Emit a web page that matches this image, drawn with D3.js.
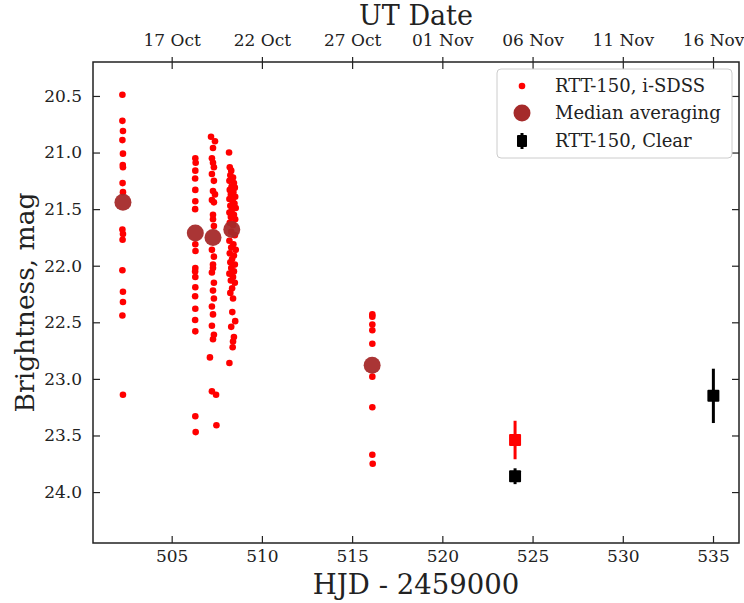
<!DOCTYPE html>
<html>
<head>
<meta charset="utf-8">
<script src="https://cdn.jsdelivr.net/npm/d3@7"></script>
<style>
  html, body { margin: 0; padding: 0; background: #fff; }
  svg { display: block; }
  text { font-family: "DejaVu Serif", serif; fill: #222; }
</style>
</head>
<body>
<svg id="chart" width="744" height="603"></svg>
<script>
// RTT-150 i-SDSS photometry, one array per night: [HJD - 2459000, mag]
const night1 = [
  [502.27, 20.49], [502.27, 20.72], [502.30, 20.81], [502.27, 20.89], [502.30, 21.01],
  [502.29, 21.11], [502.30, 21.13], [502.28, 21.27], [502.30, 21.35], [502.27, 21.68],
  [502.30, 21.72], [502.28, 21.77], [502.27, 22.04], [502.30, 22.23], [502.30, 22.32],
  [502.27, 22.44], [502.30, 23.14]
];
const night2 = [
  [506.31, 21.05], [506.33, 21.09], [506.31, 21.16], [506.30, 21.23], [506.31, 21.33],
  [506.31, 21.43], [506.30, 21.50], [506.31, 21.81], [506.32, 21.87], [506.31, 22.02],
  [506.30, 22.05], [506.31, 22.10], [506.31, 22.19], [506.30, 22.27], [506.31, 22.38],
  [506.30, 22.48], [506.31, 22.58], [506.31, 23.33], [506.33, 23.47]
];
const night3 = [
  [507.18, 20.86], [507.40, 20.90], [507.29, 20.96], [507.23, 21.05], [507.29, 21.09],
  [507.34, 21.13], [507.23, 21.19], [507.34, 21.25], [507.29, 21.34], [507.40, 21.37],
  [507.23, 21.42], [507.34, 21.44], [507.29, 21.55], [507.29, 21.59], [507.34, 21.65],
  [507.23, 21.86], [507.34, 21.92], [507.29, 21.99], [507.29, 22.02], [507.23, 22.06],
  [507.34, 22.15], [507.29, 22.22], [507.34, 22.29], [507.23, 22.36], [507.29, 22.43],
  [507.23, 22.53], [507.34, 22.61], [507.29, 22.65], [507.12, 22.81], [507.23, 23.11],
  [507.46, 23.14], [507.48, 23.41]
];
const night4 = [
  [508.18, 21.00], [508.22, 21.13], [508.30, 21.16], [508.25, 21.20], [508.40, 21.22],
  [508.20, 21.25], [508.45, 21.27], [508.32, 21.30], [508.50, 21.31], [508.22, 21.33],
  [508.42, 21.35], [508.28, 21.37], [508.52, 21.39], [508.20, 21.41], [508.38, 21.43],
  [508.48, 21.45], [508.25, 21.47], [508.55, 21.49], [508.33, 21.51], [508.20, 21.53],
  [508.45, 21.55], [508.28, 21.57], [508.52, 21.59], [508.22, 21.62], [508.40, 21.64],
  [508.30, 21.70], [508.50, 21.73], [508.20, 21.78], [508.42, 21.81], [508.30, 21.84],
  [508.55, 21.86], [508.22, 21.89], [508.45, 21.91], [508.35, 21.94], [508.25, 21.97],
  [508.50, 21.99], [508.30, 22.02], [508.45, 22.05], [508.20, 22.07], [508.40, 22.10],
  [508.28, 22.13], [508.50, 22.15], [508.35, 22.20], [508.25, 22.24], [508.40, 22.29],
  [508.36, 22.41], [508.52, 22.49], [508.30, 22.54], [508.45, 22.63], [508.40, 22.67],
  [508.38, 22.72], [508.20, 22.86]
];
const night5 = [
  [516.12, 22.43], [516.12, 22.45], [516.12, 22.52], [516.12, 22.57], [516.12, 22.69],
  [516.12, 22.98], [516.12, 23.25], [516.12, 23.67], [516.14, 23.75]
];

// Nightly medians
const medianHjd = [502.30, 506.31, 507.29, 508.33, 516.11];
const medianMag = [21.44, 21.71, 21.75, 21.68, 22.88];

// Averaged points with uncertainties
const sdssAvgHjd = [524.03];
const sdssAvgMag = [23.54];
const sdssAvgErr = [0.17];
const clearHjd = [524.03, 535.02];
const clearMag = [23.86, 23.15];
const clearErr = [0.07, 0.24];

// Axis ticks
const xTicks = [505, 510, 515, 520, 525, 530, 535];
const yTicks = [20.5, 21.0, 21.5, 22.0, 22.5, 23.0, 23.5, 24.0];
const legendLabels = ["RTT-150, i-SDSS", "Median averaging", "RTT-150, Clear"];

const JD0 = 2459000;
const plot = { left: 93, right: 739, top: 62, bottom: 543 };

const svg = d3.select("#chart");

const x = d3.scaleLinear().domain([500.64, 536.44]).range([plot.left, plot.right]);
const y = d3.scaleLinear().domain([20.2, 24.45]).range([plot.top, plot.bottom]);

// HJD offset -> calendar date (UTC)
const toDate = h => new Date((h + JD0 - 2440587.5) * 86400000);
const dateFmt = d3.utcFormat("%d %b");

const tickLen = 7;

// Bottom axis (inward ticks)
const gx = svg.append("g").attr("transform", `translate(0,${plot.bottom})`)
  .call(d3.axisBottom(x).tickValues(xTicks).tickFormat(d3.format("d"))
    .tickSizeInner(-tickLen).tickSizeOuter(0).tickPadding(7));
// Top axis: dates
const gt = svg.append("g").attr("transform", `translate(0,${plot.top})`)
  .call(d3.axisTop(x).tickValues(xTicks).tickFormat(d => dateFmt(toDate(d)))
    .tickSizeInner(5).tickSizeOuter(0).tickPadding(11));
const gtIn = svg.append("g").attr("transform", `translate(0,${plot.top})`)
  .call(d3.axisBottom(x).tickValues(xTicks).tickFormat("").tickSizeInner(tickLen).tickSizeOuter(0));
// Left / right axes
const gy = svg.append("g").attr("transform", `translate(${plot.left},0)`)
  .call(d3.axisLeft(y).tickValues(yTicks).tickFormat(d3.format(".1f"))
    .tickSizeInner(-tickLen).tickSizeOuter(0).tickPadding(11));
const gr = svg.append("g").attr("transform", `translate(${plot.right},0)`)
  .call(d3.axisRight(y).tickValues(yTicks).tickFormat("")
    .tickSizeInner(-tickLen).tickSizeOuter(0));

[gx, gt, gtIn, gy, gr].forEach(g => {
  g.select(".domain").remove();
  g.selectAll(".tick line").attr("stroke", "#222").attr("stroke-width", 1.2);
  g.selectAll(".tick text").attr("font-family", "DejaVu Serif").attr("font-size", 17).attr("fill", "#222");
});

// Frame
svg.append("rect")
  .attr("x", plot.left).attr("y", plot.top)
  .attr("width", plot.right - plot.left).attr("height", plot.bottom - plot.top)
  .attr("fill", "none").attr("stroke", "#222").attr("stroke-width", 1.5);

// Axis titles
svg.append("text").attr("x", (plot.left + plot.right) / 2).attr("y", 594)
  .attr("text-anchor", "middle").attr("font-size", 27.5).text("HJD - 2459000");
svg.append("text").attr("x", (plot.left + plot.right) / 2).attr("y", 25)
  .attr("text-anchor", "middle").attr("font-size", 27).text("UT Date");
svg.append("text").attr("transform", `translate(34,${(plot.top + plot.bottom) / 2}) rotate(-90)`)
  .attr("text-anchor", "middle").attr("font-size", 26.5).text("Brightness, mag");

const marks = svg.append("g");

// Individual i-SDSS measurements
const allNights = [night1, night2, night3, night4, night5].flat();
marks.selectAll("circle.obs").data(allNights).join("circle")
  .attr("class", "obs")
  .attr("cx", d => x(d[0])).attr("cy", d => y(d[1])).attr("r", 3.3)
  .attr("fill", "#ff0000");

// Error bars with square markers
function errSquares(hjd, mag, err, color) {
  const data = hjd.map((h, i) => ({ h, m: mag[i], e: err[i] }));
  marks.selectAll(null).data(data).join("line")
    .attr("x1", d => x(d.h)).attr("x2", d => x(d.h))
    .attr("y1", d => y(d.m - d.e)).attr("y2", d => y(d.m + d.e))
    .attr("stroke", color).attr("stroke-width", 3);
  marks.selectAll(null).data(data).join("rect")
    .attr("x", d => x(d.h) - 6).attr("y", d => y(d.m) - 6)
    .attr("width", 12).attr("height", 12).attr("rx", 1)
    .attr("fill", color);
}
errSquares(sdssAvgHjd, sdssAvgMag, sdssAvgErr, "#ff0000");
errSquares(clearHjd, clearMag, clearErr, "#000000");

// Medians
marks.selectAll("circle.med").data(medianHjd.map((h, i) => [h, medianMag[i]])).join("circle")
  .attr("class", "med")
  .attr("cx", d => x(d[0])).attr("cy", d => y(d[1])).attr("r", 8.5)
  .attr("fill", "#a52a2a").attr("fill-opacity", 0.95);

// Legend
const lg = svg.append("g").attr("transform", "translate(497,69)");
lg.append("rect").attr("width", 235).attr("height", 89).attr("rx", 4)
  .attr("fill", "#fff").attr("fill-opacity", 0.8).attr("stroke", "#cccccc");
const rows = [17, 44, 72];
lg.append("circle").attr("cx", 25).attr("cy", rows[0]).attr("r", 3.3).attr("fill", "#ff0000");
lg.append("circle").attr("cx", 25).attr("cy", rows[1]).attr("r", 8.5).attr("fill", "#a52a2a");
lg.append("line").attr("x1", 25).attr("x2", 25).attr("y1", rows[2] - 8).attr("y2", rows[2] + 8)
  .attr("stroke", "#000").attr("stroke-width", 3);
lg.append("rect").attr("x", 20).attr("y", rows[2] - 6).attr("width", 10).attr("height", 12).attr("rx", 1).attr("fill", "#000");
legendLabels.forEach((t, i) => {
  lg.append("text").attr("x", 58).attr("y", rows[i]).attr("dy", "0.35em")
    .attr("font-size", 18).text(t);
});
</script>
</body>
</html>
